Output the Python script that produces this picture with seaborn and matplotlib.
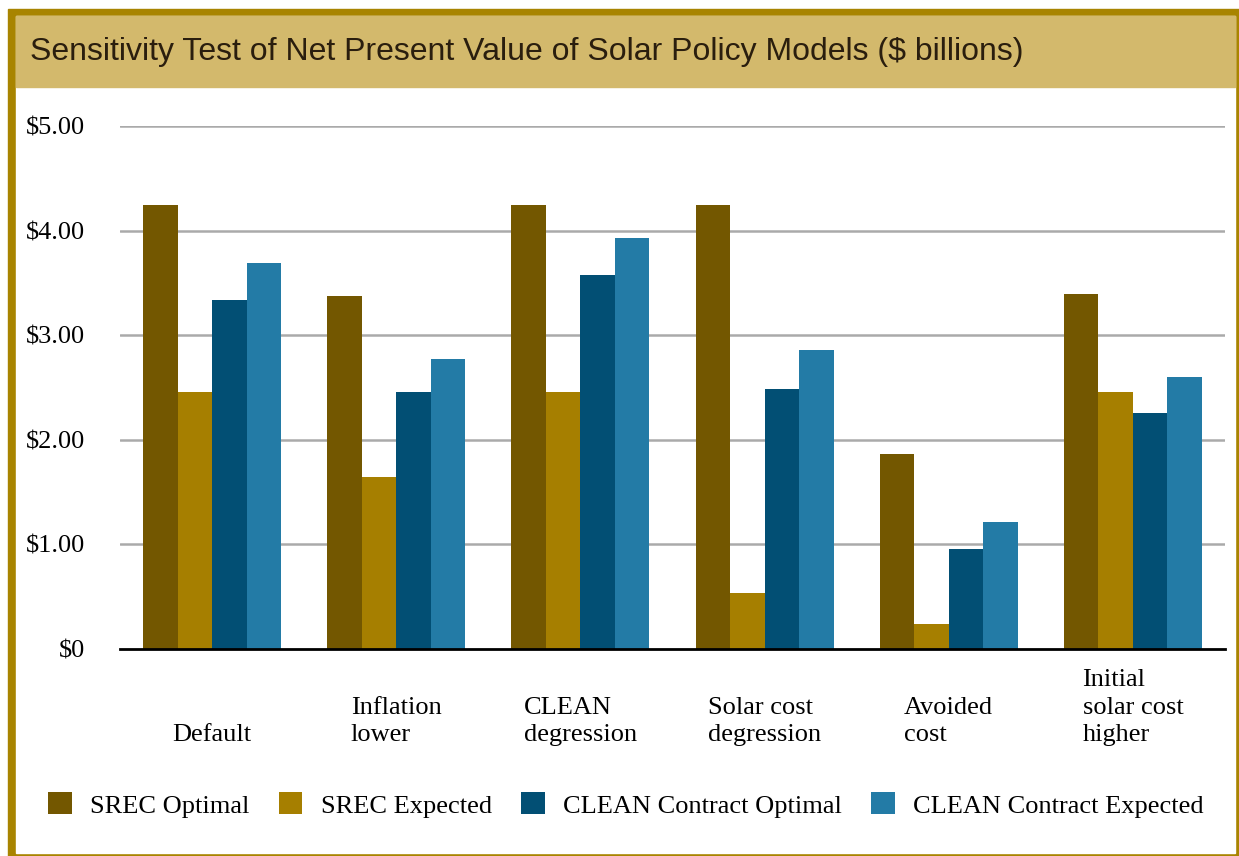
import matplotlib
matplotlib.use("Agg")
import matplotlib.pyplot as plt
import matplotlib.transforms as mtransforms
from matplotlib.patches import Rectangle, Patch
import pandas as pd
import seaborn as sns

# data ($ billions)
scenarios = ["Default", "Inflation\nlower", "CLEAN\ndegression", "Solar cost\ndegression",
             "Avoided\ncost", "Initial\nsolar cost\nhigher"]
models = ["SREC Optimal", "SREC Expected", "CLEAN Contract Optimal", "CLEAN Contract Expected"]
srec_optimal = [4.24, 3.37, 4.24, 4.24, 1.86, 3.39]
srec_expected = [2.46, 1.64, 2.46, 0.54, 0.24, 2.46]
clean_optimal = [3.34, 2.46, 3.58, 2.49, 0.96, 2.26]
clean_expected = [3.69, 2.77, 3.93, 2.86, 1.21, 2.60]
yticks = [0, 1, 2, 3, 4, 5]
ytick_labels = ["$0", "$1.00", "$2.00", "$3.00", "$4.00", "$5.00"]

colors = ["#735700", "#A67F00", "#024F74", "#237BA6"]
gold = "#A88400"
band = "#D3B96C"

rows = []
for m, vals in zip(models, [srec_optimal, srec_expected, clean_optimal, clean_expected]):
    for s, v in zip(scenarios, vals):
        rows.append({"scenario": s, "model": m, "value": v})
df = pd.DataFrame(rows)

sns.set_style("white")
serif = ["Liberation Serif", "DejaVu Serif"]
W, H = 1239, 856
fig = plt.figure(figsize=(W / 100, H / 100), dpi=100)

def px(x, y):
    return x / W, 1 - y / H

# frame, background and title band
fig.patches.append(Rectangle(px(8, 856), (1239 - 8) / W, (856 - 9) / H,
                             transform=fig.transFigure, color=gold, zorder=0))
fig.patches.append(Rectangle(px(16, 853), (1235 - 16) / W, (853 - 16) / H,
                             transform=fig.transFigure, color="white", zorder=0))
fig.patches.append(Rectangle(px(16, 87), (1235 - 16) / W, (87 - 16) / H,
                             transform=fig.transFigure, color=band, zorder=0))
fig.text(30 / W, 1 - 52 / H, "Sensitivity Test of Net Present Value of Solar Policy Models ($ billions)",
         family=["Liberation Sans", "DejaVu Sans"], fontsize=23, color="#2A1E0E", va="center", ha="left")

left, right, top, bottom = 120, 1225, 126, 649
ax = fig.add_axes([left / W, 1 - bottom / H, (right - left) / W, (bottom - top) / H])
ax.set_zorder(2)
ax.patch.set_alpha(0)

sns.barplot(data=df, x="scenario", y="value", hue="model", hue_order=models,
            palette=colors, width=0.75, saturation=1, ax=ax, legend=False,
            linewidth=0, zorder=3)

ax.set_ylim(0, 5)
ax.set_xlim(-0.5, 5.5)
ax.set_yticks(yticks)
ax.set_yticklabels(ytick_labels, family=serif, fontsize=19, color="black")
ax.tick_params(axis="y", length=0, pad=25)
ax.set_xticks([])
ax.set_xlabel("")
ax.set_ylabel("")
for y in yticks[1:]:
    ax.axhline(y, color="#AAAAAA", lw=1.8, zorder=1)
for side in ["top", "right", "left"]:
    ax.spines[side].set_visible(False)
ax.spines["bottom"].set_color("black")
ax.spines["bottom"].set_linewidth(2)
ax.spines["bottom"].set_zorder(4)

trans = mtransforms.blended_transform_factory(ax.transData, ax.transAxes)
for i, s in enumerate(scenarios):
    ax.text(i, -(741 - bottom) / (bottom - top), s, transform=trans, ha="center", va="baseline",
            multialignment="left", family=serif, fontsize=19, linespacing=1.32, color="black")

handles = [Patch(facecolor=c, edgecolor="none") for c in colors]
leg = fig.legend(handles, models, loc="center left", bbox_to_anchor=(48 / W, 1 - 805 / H),
                 ncol=4, frameon=False, prop={"family": serif, "size": 19},
                 handlelength=0.9, handleheight=0.9, handletextpad=0.7, columnspacing=1.1,
                 borderpad=0, borderaxespad=0)
for t in leg.get_texts():
    t.set_color("black")

fig.savefig("out.png", dpi=100)
